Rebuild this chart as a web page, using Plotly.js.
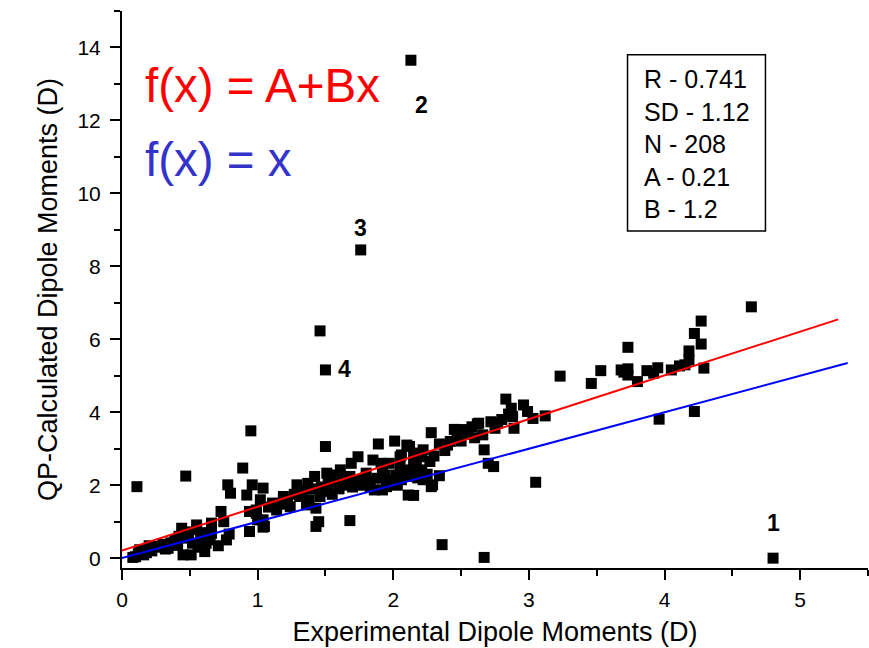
<!DOCTYPE html>
<html>
<head>
<meta charset="utf-8">
<script src="https://cdn.plot.ly/plotly-3.0.1.min.js"></script>
<style>html,body{margin:0;padding:0;background:#fff;}</style>
</head>
<body>
<div id="chart" style="width:869px;height:648px;"></div>
<script>
// Experimental dipole moments (D)
const expX = [
  0.10,0.13,0.16,0.20,0.25,0.34,0.39,0.44,0.46,0.49,0.45,0.11,0.47,0.08,0.18,0.22,0.28,0.30,0.36,0.41,0.42,0.48,0.12,0.32,
  0.51,0.52,0.55,0.55,0.58,0.61,0.62,0.65,0.66,0.66,0.71,0.73,0.77,0.79,0.78,0.80,0.89,0.92,0.94,0.94,0.95,0.96,0.99,0.99,0.56,0.60,0.75,
  1.02,1.04,1.04,1.04,1.05,1.11,1.14,1.19,1.24,1.29,1.31,1.36,1.37,1.38,1.42,1.43,1.43,1.45,1.46,1.46,1.50,1.50,1.08,1.17,1.22,1.27,1.33,1.40,1.47,1.00,1.19,
  1.52,1.52,1.58,1.61,1.68,1.68,1.69,1.74,1.75,1.76,1.80,1.85,1.86,1.88,1.89,1.91,1.92,1.94,1.95,1.97,1.95,1.92,1.55,1.60,1.65,1.70,1.72,1.78,1.82,1.56,1.64,1.83,1.98,1.51,
  2.01,2.02,2.05,2.05,2.05,2.06,2.06,2.10,2.11,2.11,2.13,2.15,2.17,2.20,2.21,2.22,2.22,2.27,2.28,2.28,2.29,2.34,2.34,2.36,2.12,2.21,2.08,2.15,2.25,2.30,2.38,2.40,2.45,2.47,2.42,2.03,2.18,2.10,2.13,2.15,
  2.50,2.51,2.53,2.62,2.63,2.66,2.67,2.67,2.70,2.72,2.74,2.75,2.77,2.83,2.87,2.88,2.89,2.96,2.99,2.55,2.58,2.80,2.85,2.60,
  3.03,3.05,3.12,3.23,3.46,3.53,3.68,3.73,3.73,3.73,3.80,3.87,3.92,3.95,3.96,4.05,4.11,4.18,4.18,4.22,4.22,4.27,4.27,4.29,4.64,4.80,3.70,4.15
];
// QP-calculated dipole moments (D)
const calcY = [
  0.04,0.23,0.09,0.34,0.32,0.27,0.50,0.82,0.64,0.55,0.09,1.96,2.25,0.02,0.15,0.20,0.30,0.38,0.42,0.35,0.60,0.72,0.12,0.25,
  0.09,0.41,0.78,0.91,0.55,0.18,0.41,0.50,0.68,0.96,0.34,1.28,0.50,0.66,2.01,1.78,2.47,1.73,0.73,1.28,3.49,2.01,1.23,1.32,0.30,0.70,1.00,
  1.60,1.92,0.85,1.05,0.87,1.51,1.32,1.60,1.41,2.01,1.69,1.46,2.05,1.60,2.24,0.87,1.37,1.00,1.69,6.23,5.16,3.06,1.40,1.48,1.55,1.75,1.85,1.90,1.95,1.05,1.69,
  2.10,1.83,2.15,2.42,2.24,1.03,2.60,2.78,2.15,8.45,2.33,2.69,1.87,2.19,3.13,2.60,1.87,2.28,1.96,2.60,2.15,2.33,1.75,1.90,2.00,1.95,2.05,2.00,2.10,2.28,2.18,1.95,2.05,2.33,
  3.21,2.28,2.19,2.51,2.78,2.83,2.15,3.10,2.33,1.73,13.65,1.72,2.69,2.88,2.42,2.15,2.97,2.65,3.44,1.96,2.01,3.13,2.26,0.37,3.06,2.78,2.40,2.50,2.30,2.80,2.95,3.10,3.53,3.30,3.20,2.00,2.20,2.24,2.42,2.78,
  3.21,3.52,3.52,3.68,3.70,3.38,2.97,0.02,2.60,3.74,2.51,3.56,3.70,4.36,4.11,3.88,3.56,4.20,4.02,3.40,3.60,3.80,3.95,3.30,
  3.83,2.08,3.90,4.99,4.79,5.14,5.16,5.78,5.19,5.02,4.84,5.14,5.07,5.22,3.81,5.16,5.27,5.43,5.68,6.16,4.02,5.87,6.50,5.21,6.89,0.00,5.10,5.30
];
// Fit parameters and statistics
const fitA = 0.21, fitB = 1.2;
const fitXEnd = 5.28, identXEnd = 5.35;
const statsLabels = ["R - 0.741", "SD - 1.12", "N - 208", "A - 0.21", "B - 1.2"];
// Numbered outliers
const outlierLabels = ["1", "2", "3", "4"];
const outlierLabelX = [4.80, 2.21, 1.76, 1.64];
const outlierLabelY = [0.97, 12.43, 9.06, 5.19];

const fitX = [0, fitXEnd];
const fitY = fitX.map(v => fitA + fitB * v);
const identX = [0, identXEnd];
const identY = identX.slice();

const FONT = "Liberation Sans, Arial, sans-serif";

const traces = [
  {x: expX, y: calcY, mode: 'markers', type: 'scatter',
   marker: {symbol: 'square', size: 11, color: '#000', line: {width: 0}}, showlegend: false},
  {x: fitX, y: fitY, mode: 'lines', type: 'scatter', line: {color: '#ff0000', width: 2}, showlegend: false},
  {x: identX, y: identY, mode: 'lines', type: 'scatter', line: {color: '#0000ff', width: 2}, showlegend: false}
];

const annotations = outlierLabels.map((t, i) => ({
  x: outlierLabelX[i], y: outlierLabelY[i], xref: 'x', yref: 'y', text: '<b>' + t + '</b>',
  showarrow: false, font: {family: FONT, size: 23, color: '#000'}
}));
annotations.push({x: 0.153, y: 12.95, xref: 'x', yref: 'y', xanchor: 'left', yanchor: 'middle',
  text: 'f(x) = A+Bx', showarrow: false, font: {family: FONT, size: 47.5, color: '#ff0000'}});
annotations.push({x: 0.153, y: 10.93, xref: 'x', yref: 'y', xanchor: 'left', yanchor: 'middle',
  text: 'f(x) = x', showarrow: false, font: {family: FONT, size: 47.5, color: '#3333cc'}});
annotations.push({x: 3.837, y: 11.35, xref: 'x', yref: 'y', xanchor: 'left', yanchor: 'middle', align: 'left',
  text: statsLabels.join('<br>'), showarrow: false, font: {family: FONT, size: 25, color: '#000'}});

const layout = {
  width: 869, height: 648,
  margin: {l: 122, r: 1, t: 11, b: 80},
  paper_bgcolor: '#fff', plot_bgcolor: '#fff',
  font: {family: FONT, color: '#000'},
  showlegend: false,
  xaxis: {
    range: [0, 5.5], dtick: 1, tick0: 0, showgrid: false, zeroline: false,
    showline: true, linecolor: '#000', linewidth: 2,
    ticks: 'outside', ticklen: 10, tickwidth: 2, tickcolor: '#000',
    ticklabelstandoff: 2,
    tickfont: {family: FONT, size: 21, color: '#000'},
    minor: {dtick: 0.5, ticks: 'outside', ticklen: 6, tickwidth: 2, tickcolor: '#000', showgrid: false},
    title: {text: 'Experimental Dipole Moments (D)', font: {family: FONT, size: 27, color: '#000'}, standoff: 12}
  },
  yaxis: {
    range: [-0.27, 15], dtick: 2, tick0: 0, showgrid: false, zeroline: false,
    showline: true, linecolor: '#000', linewidth: 2,
    ticks: 'outside', ticklen: 10, tickwidth: 2, tickcolor: '#000',
    ticklabelstandoff: 5,
    tickfont: {family: FONT, size: 21, color: '#000'},
    minor: {dtick: 1, ticks: 'outside', ticklen: 6, tickwidth: 2, tickcolor: '#000', showgrid: false},
    title: {text: 'QP-Calculated Dipole Moments (D)', font: {family: FONT, size: 27, color: '#000'}, standoff: 12}
  },
  shapes: [
    {type: 'rect', xref: 'x', yref: 'y', x0: 3.727, x1: 4.744, y0: 8.97, y1: 13.80,
     line: {color: '#000', width: 1.5}, fillcolor: 'rgba(0,0,0,0)'}
  ],
  annotations: annotations
};

Plotly.newPlot('chart', traces, layout, {displayModeBar: false, staticPlot: true});
</script>
</body>
</html>
